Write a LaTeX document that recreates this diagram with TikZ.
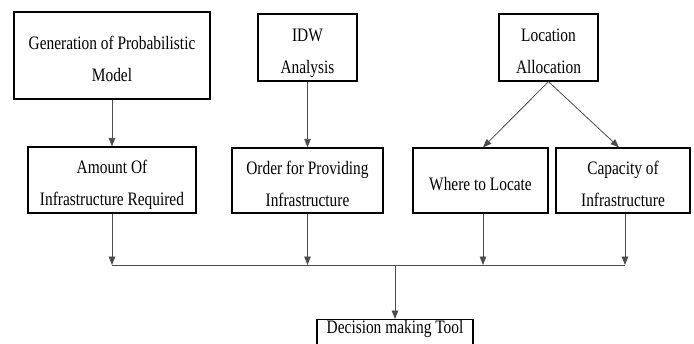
\documentclass[tikz,border=0pt]{standalone}
\usepackage{fontspec}
\setmainfont[FakeStretch=0.81]{Liberation Serif}
\usetikzlibrary{arrows.meta}
% box text: centred lines, set a little below the box centre
\newcommand{\boxlines}[1]{\raisebox{-3.5pt}[\height][\depth]{%
  \begin{tabular}{@{}c@{}}#1\end{tabular}}}
\tikzset{
  box/.style={draw=black, line width=1.2pt, rectangle, inner sep=0pt,
    font=\fontsize{19}{32}\selectfont},
  flow/.style={draw=black!70, line width=0.8pt,
    -{Triangle[width=6.5pt,length=8.5pt]}},
  bus/.style={draw=black!70, line width=0.8pt}
}
\begin{document}
\begin{tikzpicture}[x=1pt, y=-1pt]
  \useasboundingbox[fill=white] (0,0) rectangle (694,343);

  % sources
  \node[box, minimum width=196pt, minimum height=87pt] (gen) at (112,55.5)
    {\boxlines{Generation of Probabilistic\\Model}};
  \node[box, minimum width=99pt, minimum height=67pt] (idw) at (307.5,47.5)
    {\boxlines{IDW\\Analysis}};
  \node[box, minimum width=99pt, minimum height=67pt] (loc) at (548.5,47.5)
    {\boxlines{Location\\Allocation}};

  % intermediate results
  \node[box, minimum width=168pt, minimum height=66pt] (amt) at (112,180)
    {\boxlines{Amount Of\\Infrastructure Required}};
  \node[box, minimum width=151pt, minimum height=65pt] (ord) at (307.5,180.5)
    {\boxlines{Order for Providing\\Infrastructure}};
  \node[box, minimum width=135pt, minimum height=65pt] (where) at (480.5,180.5)
    {\boxlines{Where to Locate}};
  \node[box, minimum width=134pt, minimum height=65pt] (cap) at (623,180.5)
    {\boxlines{Capacity of\\Infrastructure}};

  % final tool (runs off the lower edge)
  \node[box, anchor=north, minimum width=156pt, text height=14pt, text depth=30pt]
    (dec) at (395,319) {Decision making Tool};

  % collecting line
  \coordinate (busL) at (112,265);
  \coordinate (busR) at (625,265);
  \coordinate (busM) at (395,265);

  \draw[flow] (gen) -- (amt);
  \draw[flow] (idw) -- (ord);
  \draw[flow] (loc.south) -- ([xshift=2.5pt]where.north);
  \draw[flow] (loc.south) -- ([xshift=-4pt]cap.north);

  \draw[flow] (amt.south) -- (amt.south |- busL);
  \draw[flow] (ord.south) -- (ord.south |- busL);
  \draw[flow] ([xshift=2.5pt]where.south) -- ([xshift=2.5pt]where.south |- busL);
  \draw[flow] ([xshift=2pt]cap.south) -- ([xshift=2pt]cap.south |- busL);
  \draw[bus] (busL) -- (busR);
  \draw[flow] (busM) -- (dec.north);
\end{tikzpicture}
\end{document}
